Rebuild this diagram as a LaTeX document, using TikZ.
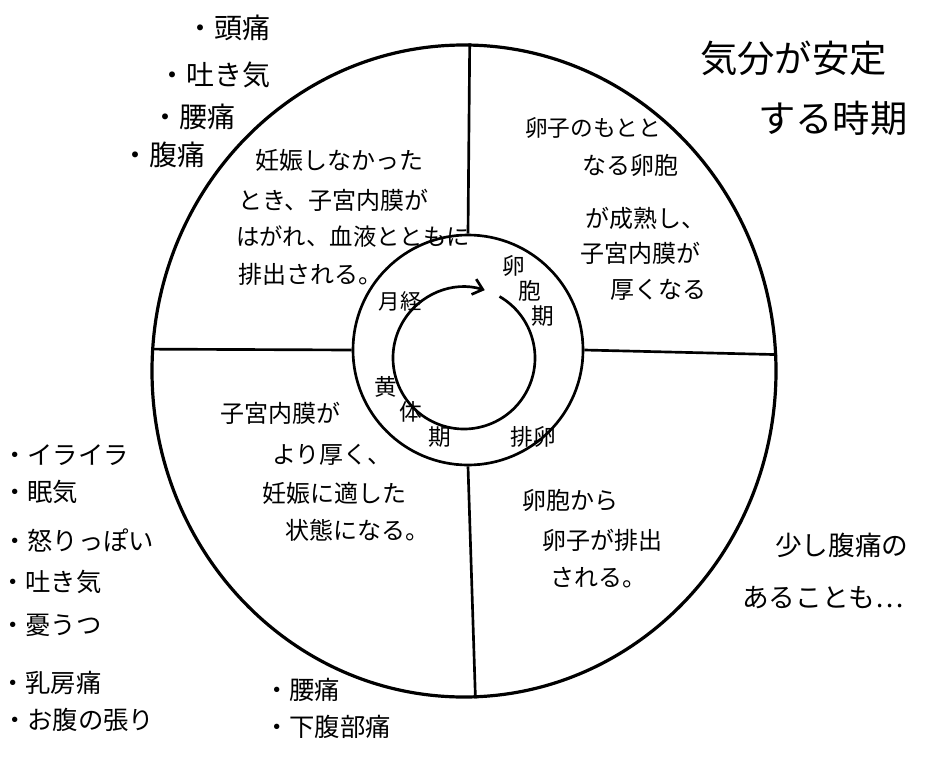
\documentclass[tikz,border=0pt]{standalone}
\usepackage{fontspec}
\newfontfamily\jp{Noto Sans CJK JP}
\usetikzlibrary{shapes.geometric,arrows.meta}
\begin{document}
\begin{tikzpicture}[x=0.75pt,y=-0.75pt,
  lbl/.style={anchor=west,inner sep=0pt,font=\jp\fontsize{18}{22}\selectfont},
  biglbl/.style={anchor=west,inner sep=0pt,font=\jp\fontsize{28}{32}\selectfont},
  sidelbl/.style={anchor=west,inner sep=0pt,font=\jp\fontsize{19}{23}\selectfont},
  toplbl/.style={anchor=west,inner sep=0pt,font=\jp\fontsize{21}{25}\selectfont},
  notelbl/.style={anchor=west,inner sep=0pt,font=\jp\fontsize{20}{24}\selectfont},
  ringlbl/.style={inner sep=0pt,font=\jp\fontsize{17}{19}\selectfont},
  stroke/.style={draw=black,line width=2pt},
  ]
\useasboundingbox (0,0) rectangle (932,757);

% circles
\node[ellipse,stroke,line width=2.4pt,minimum width=468pt,minimum height=489pt,inner sep=0pt] (outer) at (464,371) {};
\node[circle,stroke,minimum size=172.5pt,inner sep=0pt] (ring) at (468,350) {};
\coordinate (core) at (464,358);

% dividers
\draw[stroke] (outer.89) -- (ring.north);
\draw[stroke] (ring.south) -- (outer.-88.5);
\draw[stroke] (outer.176.5) -- (ring.west);
\draw[stroke] (ring.east) -- (outer.3.5);

% inner cycle with arrow
\draw[stroke,-{Straight Barb[length=7pt,width=12pt]}] ([shift={(-60:71)}]core) arc[start angle=-60,end angle=287,radius=71];

% ring labels
\node[ringlbl,font=\jp\fontsize{16}{18}\selectfont] (mens) at (400,301) {月経};
\node[ringlbl,anchor=north west,align=left] (foll) at (502,255) {卵\\\hspace*{0.7em}胞\\\hspace*{1.3em}期};
\node[ringlbl] (ovu) at (533,437) {排卵};
\node[ringlbl,anchor=north west,align=left,font=\jp\fontsize{17}{19}\selectfont] (lut) at (374,376) {黄\\\hspace*{1.1em}体\\\hspace*{2.4em}期};

% upper-left quadrant
\node[lbl] (ul1) at (255,160) {妊娠しなかった};
\node[lbl] (ul2) at (238,200) {とき、子宮内膜が};
\node[lbl,font=\jp\fontsize{17.5}{21}\selectfont] (ul3) at (236,237) {はがれ、血液とともに};
\node[lbl] (ul4) at (238,274) {排出される。};

% upper-right quadrant
\node[lbl,font=\jp\fontsize{17}{21}\selectfont] (ur1) at (525,128) {卵子のもとと};
\node[lbl] (ur2) at (582,165) {なる卵胞};
\node[lbl] (ur3) at (585,218) {が成熟し、};
\node[lbl] (ur4) at (580,253) {子宮内膜が};
\node[lbl] (ur5) at (610,290) {厚くなる};

% lower-left quadrant
\node[lbl] (ll1) at (220,413) {子宮内膜が};
\node[lbl] (ll2) at (272,455) {より厚く、};
\node[lbl] (ll3) at (262,493) {妊娠に適した};
\node[lbl] (ll4) at (285,530) {状態になる。};

% lower-right quadrant
\node[lbl] (lr1) at (522,500) {卵胞から};
\node[lbl] (lr2) at (542,540) {卵子が排出};
\node[lbl] (lr3) at (550,578) {される。};

% top right note
\node[biglbl] (mood1) at (700,58) {気分が安定};
\node[biglbl] (mood2) at (758,118) {する時期};

% right note
\node[notelbl] (pain1) at (775,545) {少し腹痛の};
\node[notelbl] (pain2) at (742,598) {あることも…};

% top-left list
\node[toplbl] (t1) at (186,28) {・頭痛};
\node[toplbl] (t2) at (158,75) {・吐き気};
\node[toplbl] (t3) at (151,117) {・腰痛};
\node[toplbl] (t4) at (121,155) {・腹痛};

% left list
\node[sidelbl] (s1) at (2,455) {・イライラ};
\node[sidelbl] (s2) at (2,492) {・眠気};
\node[sidelbl] (s3) at (2,540) {・怒りっぽい};
\node[sidelbl] (s4) at (0,582) {・吐き気};
\node[sidelbl] (s5) at (0,625) {・憂うつ};
\node[sidelbl] (s6) at (0,683) {・乳房痛};
\node[sidelbl] (s7) at (2,720) {・お腹の張り};

% bottom list
\node[sidelbl] (b1) at (264,690) {・腰痛};
\node[sidelbl] (b2) at (264,727) {・下腹部痛};
\end{tikzpicture}
\end{document}
